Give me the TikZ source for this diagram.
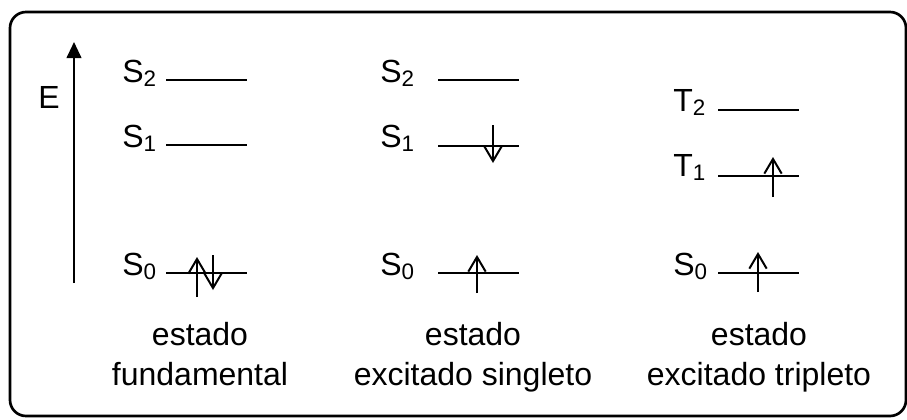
\documentclass[tikz,border=0pt]{standalone}
\usepackage{fontspec}
\setmainfont{Liberation Sans}
\usetikzlibrary{arrows.meta}
\tikzset{level/.style={line width=1.5pt},
  spin/.style={line width=1.5pt,-{Straight Barb[length=11pt,width=13pt]}},
  lvlabel/.style={anchor=base west,inner sep=0pt},
  caption/.style={anchor=base,align=center,inner sep=0pt}}

\begin{document}
\begin{tikzpicture}[x=0.75pt,y=-0.75pt,font=\fontsize{24}{30}\selectfont]
  \useasboundingbox (0,0) rectangle (907,419);
  \draw[line width=2pt,rounded corners=12pt] (10,12) rectangle (906,416);
  % energy axis
  \draw[line width=1.5pt,-{Triangle[length=12pt,width=11pt]}] (74,283) -- (74,42);
  \node (E) at (49,97) {E};
  % estado fundamental
  \draw[level] (166,80) -- (247,80);
  \draw[level] (166,145) -- (247,145);
  \draw[level] (166,273) -- (247,273);
  \node[lvlabel] (fS2) at (122,82) {S\textsubscript{2}};
  \node[lvlabel] (fS1) at (122,147) {S\textsubscript{1}};
  \node[lvlabel] (fS0) at (122,275) {S\textsubscript{0}};
  \draw[spin] (197,297) -- (197,257);
  \draw[spin] (213,255) -- (213,290);
  \node[caption] (fund) at (200,385) {estado\\fundamental};
  % estado excitado singleto
  \draw[level] (438,80) -- (519,80);
  \draw[level] (438,146) -- (519,146);
  \draw[level] (438,273) -- (519,273);
  \node[lvlabel] (sS2) at (380,82) {S\textsubscript{2}};
  \node[lvlabel] (sS1) at (380,147) {S\textsubscript{1}};
  \node[lvlabel] (sS0) at (380,275) {S\textsubscript{0}};
  \draw[spin] (493,125) -- (493,163);
  \draw[spin] (477,293) -- (477,255);
  \node[caption] (sing) at (473,385) {estado\\excitado singleto};
  % estado excitado tripleto
  \draw[level] (718,110) -- (799,110);
  \draw[level] (718,176) -- (799,176);
  \draw[level] (718,273) -- (799,273);
  \node[lvlabel] (tT2) at (673,111) {T\textsubscript{2}};
  \node[lvlabel] (tT1) at (673,176) {T\textsubscript{1}};
  \node[lvlabel] (tS0) at (673,275) {S\textsubscript{0}};
  \draw[spin] (773,197) -- (773,157);
  \draw[spin] (758,292) -- (758,252);
  \node[caption] (trip) at (759,385) {estado\\excitado tripleto};
\end{tikzpicture}
\end{document}
